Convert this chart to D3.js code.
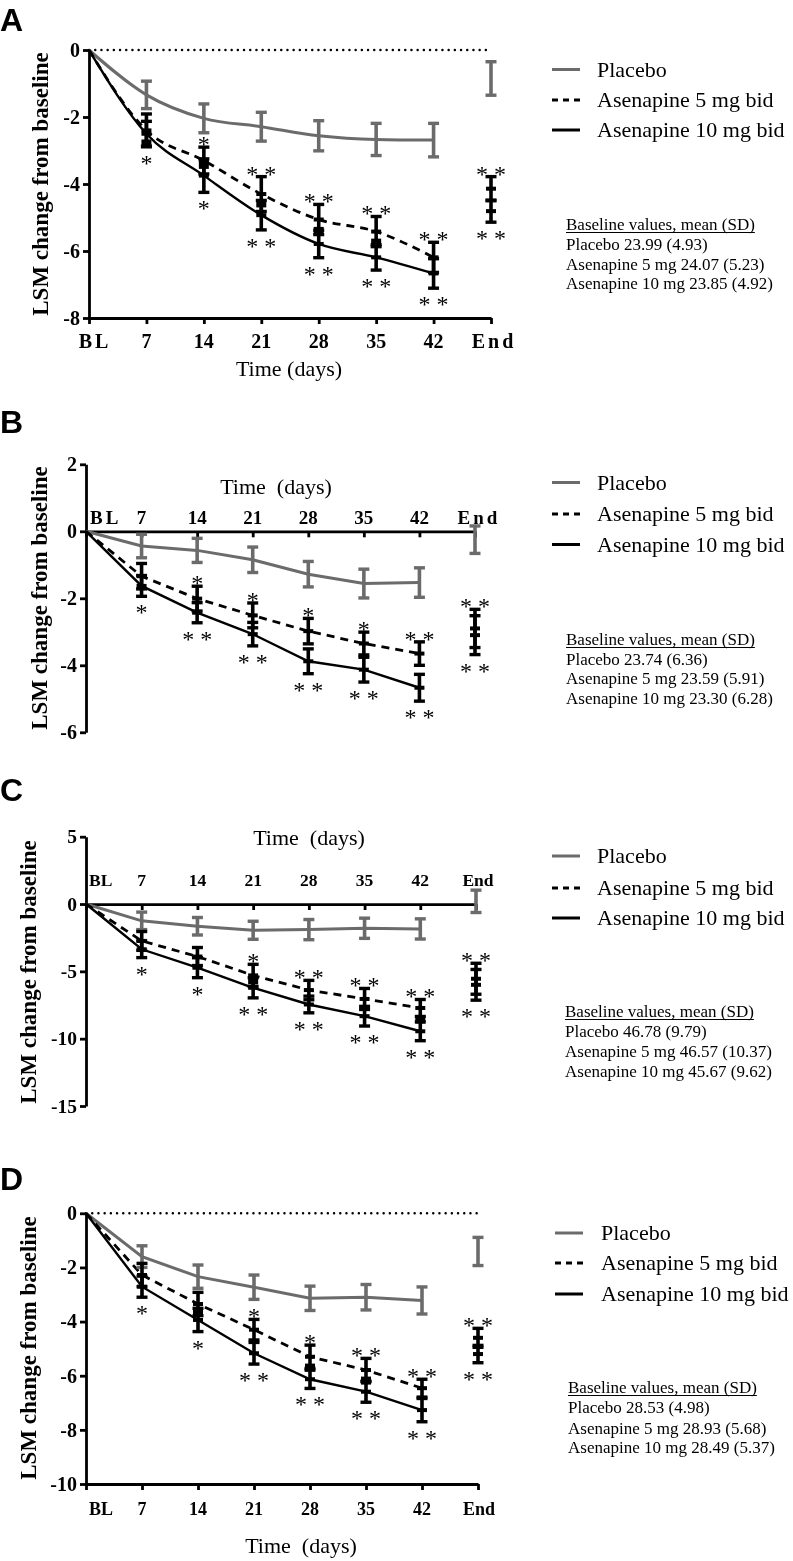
<!DOCTYPE html>
<html>
<head>
<meta charset="utf-8">
<script src="https://cdn.jsdelivr.net/npm/d3@7"></script>
<style>
  html, body { margin: 0; padding: 0; background: #fff; }
  svg { display: block; will-change: transform; }
</style>
</head>
<body>
<script>
// ---------- DATA ----------
const categories = ["BL", "7", "14", "21", "28", "35", "42", "End"];
const legendLabels = ["Placebo", "Asenapine 5 mg bid", "Asenapine 10 mg bid"];
const baselineHeader = "Baseline values, mean (SD)";

// Panel A
const A_yTicks = [-8, -6, -4, -2, 0];
const A_placebo   = [0, -1.34, -2.04, -2.29, -2.56, -2.67, -2.69, -0.85];
const A_placeboSE = [0, 0.41, 0.43, 0.43, 0.45, 0.48, 0.50, 0.50];
const A_asen5     = [0, -2.40, -3.30, -4.30, -5.06, -5.42, -6.19, -4.14];
const A_asen5SE   = [0, 0.49, 0.40, 0.52, 0.45, 0.45, 0.45, 0.36];
const A_asen10    = [0, -2.50, -3.75, -4.93, -5.79, -6.19, -6.67, -4.81];
const A_asen10SE  = [0, 0.37, 0.50, 0.44, 0.41, 0.38, 0.44, 0.33];
const A_squares   = [null, -2.79, -3.43, -4.58, -5.40, -5.75, null, null];
const A_starsAbove = ["", "", "*", "* *", "* *", "* *", "* *", "* *"];
const A_starsBelow = ["", "*", "*", "* *", "* *", "* *", "* *", "* *"];
const A_baseline = ["Placebo 23.99 (4.93)", "Asenapine 5 mg 24.07 (5.23)", "Asenapine 10 mg 23.85 (4.92)"];

// Panel B
const B_yTicks = [-6, -4, -2, 0, 2];
const B_placebo   = [0, -0.44, -0.57, -0.85, -1.28, -1.56, -1.53, -0.25];
const B_placeboSE = [0, 0.35, 0.36, 0.38, 0.38, 0.43, 0.44, 0.41];
const B_asen5     = [0, -1.34, -2.01, -2.51, -2.98, -3.35, -3.65, -2.90];
const B_asen5SE   = [0, 0.38, 0.37, 0.37, 0.38, 0.34, 0.35, 0.57];
const B_asen10    = [0, -1.63, -2.43, -3.07, -3.88, -4.13, -4.67, -3.10];
const B_asen10SE  = [0, 0.31, 0.30, 0.35, 0.37, 0.37, 0.40, 0.58];
const B_squares   = [null, null, null, null, null, null, null, null];
const B_starsAbove = ["", "", "*", "*", "*", "*", "* *", "* *"];
const B_starsBelow = ["", "*", "* *", "* *", "* *", "* *", "* *", "* *"];
const B_baseline = ["Placebo 23.74 (6.36)", "Asenapine 5 mg 23.59 (5.91)", "Asenapine 10 mg 23.30 (6.28)"];

// Panel C
const C_yTicks = [-15, -10, -5, 0, 5];
const C_placebo   = [0, -1.25, -1.65, -1.95, -1.90, -1.80, -1.85, 0.20];
const C_placeboSE = [0, 0.65, 0.65, 0.67, 0.75, 0.75, 0.75, 0.83];
const C_asen5     = [0, -2.74, -3.90, -5.30, -6.39, -7.05, -7.72, -5.55];
const C_asen5SE   = [0, 0.70, 0.67, 0.82, 0.72, 0.78, 0.63, 1.15];
const C_asen10    = [0, -3.36, -4.73, -6.22, -7.46, -8.33, -9.45, -6.00];
const C_asen10SE  = [0, 0.62, 0.74, 0.75, 0.62, 0.73, 0.70, 1.14];
const C_squares   = [null, null, null, -5.67, null, null, -8.58, null];
const C_starsAbove = ["", "", "", "*", "* *", "* *", "* *", "* *"];
const C_starsBelow = ["", "*", "*", "* *", "* *", "* *", "* *", "* *"];
const C_baseline = ["Placebo 46.78 (9.79)", "Asenapine 5 mg 46.57 (10.37)", "Asenapine 10 mg 45.67 (9.62)"];

// Panel D
const D_yTicks = [-10, -8, -6, -4, -2, 0];
const D_placebo   = [0, -1.60, -2.34, -2.73, -3.14, -3.10, -3.22, -1.41];
const D_placeboSE = [0, 0.40, 0.43, 0.45, 0.45, 0.47, 0.50, 0.52];
const D_asen5     = [0, -2.28, -3.35, -4.30, -5.30, -5.79, -6.46, -4.60];
const D_asen5SE   = [0, 0.43, 0.43, 0.38, 0.43, 0.43, 0.33, 0.35];
const D_asen10    = [0, -2.71, -3.94, -5.17, -6.13, -6.59, -7.27, -5.20];
const D_asen10SE  = [0, 0.39, 0.43, 0.40, 0.34, 0.39, 0.43, 0.32];
const D_squares   = [null, null, -3.61, null, -5.70, -6.18, null, null];
const D_starsAbove = ["", "", "", "*", "*", "* *", "* *", "* *"];
const D_starsBelow = ["", "*", "*", "* *", "* *", "* *", "* *", "* *"];
const D_baseline = ["Placebo 28.53 (4.98)", "Asenapine 5 mg 28.93 (5.68)", "Asenapine 10 mg 28.49 (5.37)"];

// ---------- DRAWING ----------
const SERIF = "Liberation Serif, Times New Roman, Times, serif";
const SANS = "Liberation Sans, Arial, Helvetica, sans-serif";
const GRAY = "#6b6b6b";

const svg = d3.select("body").append("svg")
  .attr("width", 793).attr("height", 1561);

function drawPanel(p) {
  const g = svg.append("g");
  const x = d3.scalePoint().domain(categories).range([p.x0, p.x1]).padding(0);
  const y = d3.scaleLinear().domain(p.yDomain).range([p.yBottom, p.yTop]);

  // panel letter
  g.append("text").attr("x", 0).attr("y", p.letterY)
    .style("font-family", SANS).attr("font-weight", "bold").attr("font-size", 32)
    .text(p.letter);

  // dotted zero line
  if (p.dotted) {
    g.append("line").attr("x1", p.x0).attr("x2", p.x1)
      .attr("y1", y(0)).attr("y2", y(0))
      .attr("stroke", "#000").attr("stroke-width", 2.4)
      .attr("stroke-linecap", "round").attr("stroke-dasharray", "0.1,6.1");
  }

  // y axis
  const yAxis = g.append("g").attr("transform", `translate(${p.x0},0)`)
    .call(d3.axisLeft(y).tickValues(p.yTicks).tickFormat(d => String(d))
      .tickSize(6).tickSizeOuter(0).tickPadding(3));
  yAxis.select(".domain").attr("stroke-width", 2.8);
  yAxis.selectAll(".tick line").attr("stroke-width", 2.8);
  yAxis.selectAll(".tick text").style("font-family", SERIF).attr("font-weight", "bold")
    .attr("font-size", p.tickFont).attr("fill", "#000");

  // x axis
  const axisY = p.xAxisAtZero ? y(0) : p.yBottom;
  const xAxis = g.append("g").attr("transform", `translate(0,${axisY})`)
    .call(d3.axisBottom(x).tickFormat("").tickSize(6).tickSizeOuter(0));
  xAxis.select(".domain").attr("stroke-width", 2.8);
  xAxis.selectAll(".tick line").attr("stroke-width", 2.8);

  // x tick labels
  g.append("g").selectAll("text").data(categories).join("text")
    .attr("x", (d, i) => i === 0 ? x(d) + p.blOffset : x(d) + (i === categories.length - 1 ? p.endOffset : 0))
    .attr("y", p.xLabelY)
    .attr("text-anchor", (d, i) => (i === 0 && p.blAnchor) ? p.blAnchor : "middle")
    .style("font-family", SERIF).attr("font-weight", "bold").attr("font-size", p.xTickFont)
    .attr("letter-spacing", d => (p.spaced && (d === "BL" || d === "End")) ? p.spaced : 0)
    .text(d => d);

  // axis titles
  g.append("text").attr("x", p.timeX).attr("y", p.timeY).attr("text-anchor", "middle")
    .style("font-family", SERIF).attr("font-size", 22).style("white-space", "pre")
    .text(p.timeText);
  g.append("text")
    .attr("transform", `translate(${p.yLabelX},${p.yLabelY}) rotate(-90)`)
    .attr("text-anchor", "middle").style("font-family", SERIF).attr("font-weight", "bold")
    .attr("font-size", 23).text("LSM change from baseline");

  const idxLine = d3.range(0, 7);
  const curve = p.smooth ? d3.curveMonotoneX : d3.curveLinear;
  const line = vals => d3.line().curve(curve)
    .x(i => x(categories[i])).y(i => y(vals[i]))(idxLine);

  // lines
  g.append("path").attr("d", line(p.placebo)).attr("fill", "none")
    .attr("stroke", GRAY).attr("stroke-width", 3);
  g.append("path").attr("d", line(p.asen5)).attr("fill", "none")
    .attr("stroke", "#000").attr("stroke-width", 2.8).attr("stroke-dasharray", "8,6");
  g.append("path").attr("d", line(p.asen10)).attr("fill", "none")
    .attr("stroke", "#000").attr("stroke-width", 2.4);

  // error bars
  function errorBars(vals, se, color, cls) {
    const idx = d3.range(1, categories.length);
    const eg = g.append("g").attr("class", cls);
    eg.selectAll("line.v").data(idx).join("line").attr("class", "v")
      .attr("x1", i => x(categories[i])).attr("x2", i => x(categories[i]))
      .attr("y1", i => y(vals[i] + se[i])).attr("y2", i => y(vals[i] - se[i]))
      .attr("stroke", color).attr("stroke-width", 3.6);
    [1, -1].forEach(s => {
      eg.selectAll("line.c" + (s > 0 ? "t" : "b")).data(idx).join("line")
        .attr("class", "c" + (s > 0 ? "t" : "b"))
        .attr("x1", i => x(categories[i]) - 5.5).attr("x2", i => x(categories[i]) + 5.5)
        .attr("y1", i => y(vals[i] + s * se[i])).attr("y2", i => y(vals[i] + s * se[i]))
        .attr("stroke", color).attr("stroke-width", 3.4);
    });
  }
  errorBars(p.placebo, p.placeboSE, GRAY, "ebp");
  errorBars(p.asen5, p.asen5SE, "#000", "eb5");
  errorBars(p.asen10, p.asen10SE, "#000", "eb10");

  // mean ticks for treatment groups
  const idxM = d3.range(1, categories.length);
  [p.asen5, p.asen10].forEach(vals => {
    g.append("g").selectAll("rect").data(idxM).join("rect")
      .attr("x", i => x(categories[i]) - 5).attr("y", i => y(vals[i]) - 2)
      .attr("width", 10).attr("height", 4).attr("fill", "#000");
  });
  // square markers
  g.append("g").selectAll("rect").data(idxM.filter(i => p.squares[i] !== null)).join("rect")
    .attr("x", i => x(categories[i]) - 5).attr("y", i => y(p.squares[i]) - 4)
    .attr("width", 10).attr("height", 8).attr("fill", "#000");

  // significance stars
  const sg = g.append("g").attr("opacity", 0.999);
  sg.append("g").selectAll("text").data(idxM).join("text")
    .attr("x", i => x(categories[i])).attr("text-anchor", "middle")
    .attr("y", i => y(Math.max(p.asen5[i] + p.asen5SE[i], p.asen10[i] + p.asen10SE[i])) + 5)
    .style("font-family", SERIF).attr("font-size", 24).style("white-space", "pre").attr("fill", "#000")
    .text(i => p.starsAbove[i]);
  sg.append("g").selectAll("text").data(idxM).join("text")
    .attr("x", i => x(categories[i])).attr("text-anchor", "middle")
    .attr("y", i => y(Math.min(p.asen5[i] - p.asen5SE[i], p.asen10[i] - p.asen10SE[i])) + 24)
    .style("font-family", SERIF).attr("font-size", 24).style("white-space", "pre").attr("fill", "#000")
    .text(i => p.starsBelow[i]);

  // legend
  const styles = [
    { stroke: GRAY, w: 3, dash: null },
    { stroke: "#000", w: 2.8, dash: "6,5" },
    { stroke: "#000", w: 3, dash: null }
  ];
  legendLabels.forEach((lab, i) => {
    const ly = p.legendY[i];
    g.append("line").attr("x1", p.legX0).attr("x2", p.legX0 + 28)
      .attr("y1", ly).attr("y2", ly).attr("stroke", styles[i].stroke)
      .attr("stroke-width", styles[i].w).attr("stroke-dasharray", styles[i].dash);
    g.append("text").attr("x", p.legTextX).attr("y", ly + 7)
      .style("font-family", SERIF).attr("font-size", 22).text(lab);
  });

  // baseline values block
  const hdr = g.append("text").attr("x", p.baseX).attr("y", p.baseY[0])
    .style("font-family", SERIF).attr("font-size", 17).text(baselineHeader);
  const w = hdr.node().getComputedTextLength();
  g.append("line").attr("x1", p.baseX).attr("x2", p.baseX + w)
    .attr("y1", p.baseY[0] + 2.5).attr("y2", p.baseY[0] + 2.5)
    .attr("stroke", "#000").attr("stroke-width", 1.1);
  p.baseline.forEach((t, i) => {
    g.append("text").attr("x", p.baseX).attr("y", p.baseY[i + 1])
      .style("font-family", SERIF).attr("font-size", 17).text(t);
  });
}

drawPanel({
  letter: "A", letterY: 31,
  x0: 89, x1: 491, yDomain: [-8, 0], yBottom: 318, yTop: 50, yTicks: A_yTicks,
  dotted: true, xAxisAtZero: false, smooth: true,
  tickFont: 20, xTickFont: 20, xLabelY: 348, blOffset: 6, endOffset: 3, spaced: 3,
  timeText: "Time (days)", timeX: 289, timeY: 376, yLabelX: 48, yLabelY: 184,
  placebo: A_placebo, placeboSE: A_placeboSE, asen5: A_asen5, asen5SE: A_asen5SE,
  asen10: A_asen10, asen10SE: A_asen10SE, squares: A_squares,
  starsAbove: A_starsAbove, starsBelow: A_starsBelow,
  legendY: [69.5, 100, 130], legX0: 552, legTextX: 597,
  baseX: 566, baseY: [230, 250, 270, 289], baseline: A_baseline
});

drawPanel({
  letter: "B", letterY: 433,
  x0: 86, x1: 475, yDomain: [-6, 2], yBottom: 732.3, yTop: 464.3, yTicks: B_yTicks,
  dotted: false, xAxisAtZero: true, smooth: false,
  tickFont: 20, xTickFont: 19, xLabelY: 524, blOffset: 4, blAnchor: "start", endOffset: 4, spaced: 3,
  timeText: "Time  (days)", timeX: 276, timeY: 494, yLabelX: 47, yLabelY: 598,
  placebo: B_placebo, placeboSE: B_placeboSE, asen5: B_asen5, asen5SE: B_asen5SE,
  asen10: B_asen10, asen10SE: B_asen10SE, squares: B_squares,
  starsAbove: B_starsAbove, starsBelow: B_starsBelow,
  legendY: [482.5, 514, 544.5], legX0: 552, legTextX: 597,
  baseX: 566, baseY: [645, 664.5, 684, 703.5], baseline: B_baseline
});

drawPanel({
  letter: "C", letterY: 801,
  x0: 86, x1: 476, yDomain: [-15, 5], yBottom: 1106, yTop: 836.7, yTicks: C_yTicks,
  dotted: false, xAxisAtZero: true, smooth: false,
  tickFont: 19.5, xTickFont: 17.5, xLabelY: 886, blOffset: 3, blAnchor: "start", endOffset: 2, spaced: null,
  timeText: "Time  (days)", timeX: 309, timeY: 845, yLabelX: 36, yLabelY: 972,
  placebo: C_placebo, placeboSE: C_placeboSE, asen5: C_asen5, asen5SE: C_asen5SE,
  asen10: C_asen10, asen10SE: C_asen10SE, squares: C_squares,
  starsAbove: C_starsAbove, starsBelow: C_starsBelow,
  legendY: [856, 888, 918], legX0: 552, legTextX: 597,
  baseX: 565, baseY: [1017, 1037, 1057, 1077], baseline: C_baseline
});

drawPanel({
  letter: "D", letterY: 1190,
  x0: 86, x1: 478, yDomain: [-10, 0], yBottom: 1484, yTop: 1213.3, yTicks: D_yTicks,
  dotted: true, xAxisAtZero: false, smooth: false,
  tickFont: 20, xTickFont: 18, xLabelY: 1515, blOffset: 3, blAnchor: "start", endOffset: 1, spaced: null,
  timeText: "Time  (days)", timeX: 301, timeY: 1553, yLabelX: 36, yLabelY: 1348,
  placebo: D_placebo, placeboSE: D_placeboSE, asen5: D_asen5, asen5SE: D_asen5SE,
  asen10: D_asen10, asen10SE: D_asen10SE, squares: D_squares,
  starsAbove: D_starsAbove, starsBelow: D_starsBelow,
  legendY: [1233, 1263, 1294], legX0: 555, legTextX: 601,
  baseX: 568, baseY: [1393, 1413, 1434, 1453], baseline: D_baseline
});
</script>
</body>
</html>
